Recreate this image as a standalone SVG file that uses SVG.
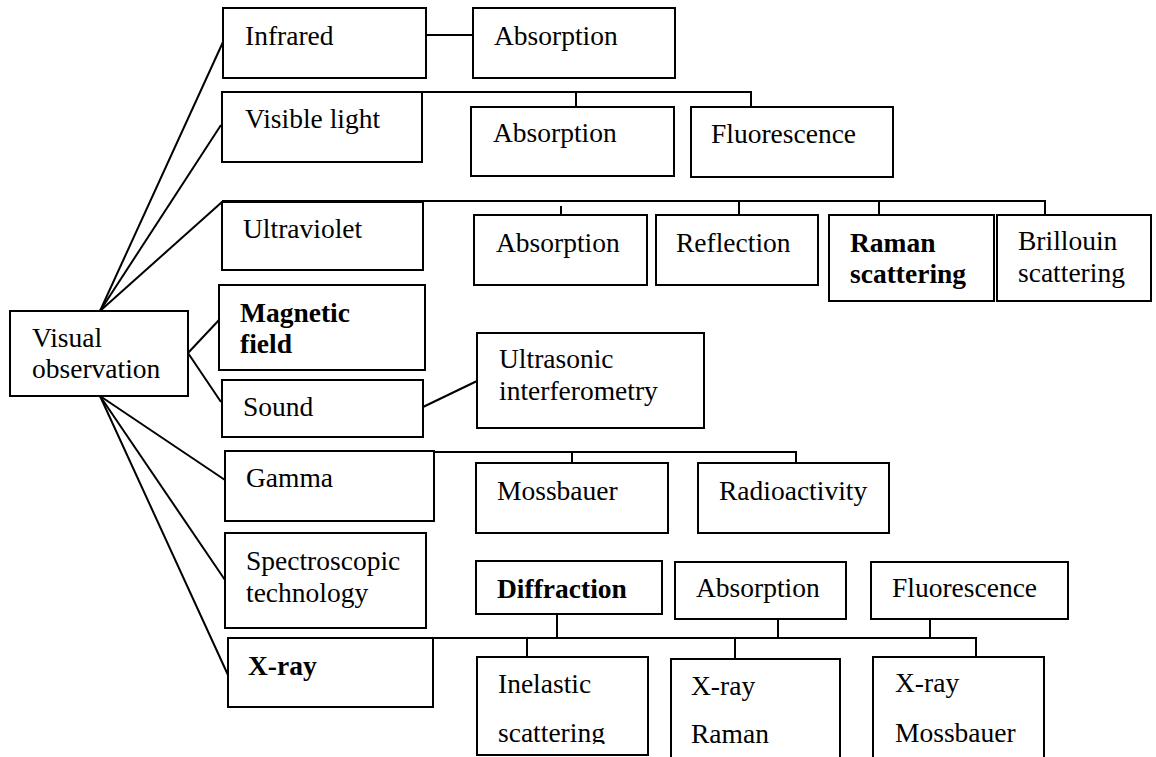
<svg xmlns="http://www.w3.org/2000/svg" width="1156" height="757" viewBox="0 0 1156 757">
<style>
rect{fill:#fff;stroke:#000;stroke-width:2}
text{font-family:"Liberation Serif","Times New Roman",serif;font-size:27.5px;fill:#000}
.b{font-weight:bold}
#connectors line,#connectors polyline{stroke:#000;stroke-width:2;fill:none}
</style>
<defs>
<clipPath id="clipIn"><rect x="470" y="650" width="190" height="94"/></clipPath>
</defs>
<rect x="0" y="0" width="1156" height="757" style="stroke:none"/>
<g id="connectors">
<line x1="223" y1="42" x2="100" y2="311"/>
<line x1="221" y1="125" x2="100" y2="311"/>
<line x1="222" y1="202" x2="100" y2="311"/>
<line x1="188" y1="353" x2="219" y2="320"/>
<line x1="188" y1="353" x2="221" y2="402"/>
<line x1="100" y1="396" x2="225" y2="480"/>
<line x1="100" y1="396" x2="225" y2="580"/>
<line x1="100" y1="396" x2="228" y2="675"/>
<line x1="426" y1="35" x2="473" y2="35"/>
<polyline points="422,92 751,92 751,107"/>
<line x1="576" y1="92" x2="576" y2="107"/>
<polyline points="222,201 1045,201 1045,215"/>
<line x1="561" y1="206" x2="561" y2="215"/>
<line x1="739" y1="201" x2="739" y2="215"/>
<line x1="879" y1="201" x2="879" y2="215"/>
<line x1="423" y1="407" x2="477" y2="381"/>
<polyline points="434,452 796,452 796,463"/>
<line x1="572" y1="452" x2="572" y2="463"/>
<polyline points="433,638 976,638 976,657"/>
<line x1="557" y1="614" x2="557" y2="638"/>
<line x1="778" y1="615" x2="778" y2="638"/>
<line x1="930" y1="614" x2="930" y2="638"/>
<line x1="527" y1="638" x2="527" y2="657"/>
<line x1="735" y1="638" x2="735" y2="659"/>
</g>
<g id="visual"><rect x="10" y="311" width="178" height="85"/><text x="32" y="347">Visual</text><text x="32" y="378">observation</text></g>
<g id="infrared"><rect x="223" y="8" width="203" height="70"/><text x="245" y="45">Infrared</text></g>
<g id="ir-absorption"><rect x="473" y="8" width="202" height="70"/><text x="494" y="45">Absorption</text></g>
<g id="visible"><rect x="222" y="92" width="200" height="70"/><text x="245" y="128">Visible light</text></g>
<g id="vl-absorption"><rect x="471" y="107" width="203" height="69"/><text x="493" y="142">Absorption</text></g>
<g id="vl-fluorescence"><rect x="691" y="107" width="202" height="70"/><text x="711" y="143">Fluorescence</text></g>
<g id="ultraviolet"><rect x="222" y="202" width="201" height="68"/><text x="243" y="238">Ultraviolet</text></g>
<g id="uv-absorption"><rect x="474" y="215" width="173" height="70"/><text x="496" y="252">Absorption</text></g>
<g id="uv-reflection"><rect x="656" y="215" width="162" height="70"/><text x="676" y="252">Reflection</text></g>
<g id="uv-raman"><rect x="829" y="215" width="165" height="86"/><text class="b" x="850" y="252">Raman</text><text class="b" x="850" y="283">scattering</text></g>
<g id="uv-brillouin"><rect x="997" y="215" width="154" height="86"/><text x="1018" y="250">Brillouin</text><text x="1018" y="282">scattering</text></g>
<g id="magnetic"><rect x="219" y="285" width="206" height="85"/><text class="b" x="240" y="322">Magnetic</text><text class="b" x="240" y="353">field</text></g>
<g id="sound"><rect x="222" y="380" width="201" height="57"/><text x="243" y="416">Sound</text></g>
<g id="ultrasonic"><rect x="477" y="333" width="227" height="95"/><text x="499" y="368">Ultrasonic</text><text x="499" y="400">interferometry</text></g>
<g id="gamma"><rect x="225" y="451" width="209" height="70"/><text x="246" y="487">Gamma</text></g>
<g id="mossbauer"><rect x="476" y="463" width="192" height="70"/><text x="497" y="500">Mossbauer</text></g>
<g id="radioactivity"><rect x="698" y="463" width="191" height="70"/><text x="719" y="500">Radioactivity</text></g>
<g id="spectroscopic"><rect x="225" y="533" width="201" height="95"/><text x="246" y="570">Spectroscopic</text><text x="246" y="602">technology</text></g>
<g id="xray"><rect x="228" y="638" width="205" height="69"/><text class="b" x="248" y="675">X-ray</text></g>
<g id="diffraction"><rect x="476" y="561" width="186" height="53"/><text class="b" x="497" y="598">Diffraction</text></g>
<g id="x-absorption"><rect x="675" y="562" width="171" height="57"/><text x="696" y="597">Absorption</text></g>
<g id="x-fluorescence"><rect x="871" y="562" width="197" height="57"/><text x="892" y="597">Fluorescence</text></g>
<g id="inelastic"><rect x="477" y="657" width="171" height="98"/><text x="498" y="693">Inelastic</text><text x="498" y="742" clip-path="url(#clipIn)">scattering</text></g>
<g id="xray-raman"><rect x="671" y="659" width="169" height="110"/><text x="691" y="695">X-ray</text><text x="691" y="743">Raman</text></g>
<g id="xray-mossbauer"><rect x="873" y="657" width="171" height="112"/><text x="895" y="692">X-ray</text><text x="895" y="742">Mossbauer</text></g>
</svg>
